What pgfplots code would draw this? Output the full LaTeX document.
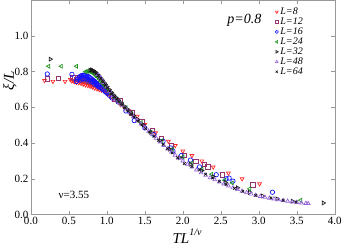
\documentclass[border=0pt]{standalone}
\usepackage{pgfplots}
\pgfplotsset{compat=1.18}
\usepackage{fontspec}
\setmainfont{Liberation Serif}
\definecolor{cL8}{RGB}{255,40,40}
\definecolor{cL12}{RGB}{150,50,110}
\definecolor{cL16}{RGB}{20,20,255}
\definecolor{cL24}{RGB}{30,150,30}
\definecolor{cL32}{RGB}{30,30,30}
\definecolor{cL48}{RGB}{150,100,220}
\definecolor{cL64}{RGB}{20,20,20}
\begin{document}
\begin{tikzpicture}
\begin{axis}[
  scale only axis, width=302.8pt, height=213.6pt,
  xmin=0, xmax=4, ymin=0, ymax=1.2,
  xtick={0,0.5,...,4}, ytick={0,0.2,...,1.0},
  tick align=inside, major tick length=4pt,
  axis line style={gray!80}, every tick/.style={gray!80},
  xticklabel={\pgfmathprintnumber[fixed,fixed zerofill,precision=1,assume math mode=true]{\tick}},
  yticklabel={\pgfmathprintnumber[fixed,fixed zerofill,precision=1,assume math mode=true]{\tick}},
  tick label style={font=\fontsize{11}{11}\selectfont},
  xticklabel style={yshift=1pt},
  yticklabel style={xshift=1pt},
  xlabel={\textit{TL}\raisebox{1.1ex}{\fontsize{10}{10}\selectfont\textit{1/ν}}},
  ylabel={\textit{ξ/L}},
  xlabel style={font=\fontsize{15}{15}\selectfont, at={(axis description cs:0.514,-0.134)}, anchor=base},
  ylabel style={font=\fontsize{15}{15}\selectfont, at={(axis description cs:-0.069,0.625)}, anchor=center, rotate=0},
  legend style={draw=none, fill=none, at={(axis cs:3.20,1.175)}, anchor=north west,
     font=\fontsize{10}{10}\selectfont, row sep=-2.2pt, inner sep=1pt},
  legend image post style={mark size=1.6pt, line width=0.6pt},
  legend cell align=left,
  mark size=2.2pt,
  every axis plot/.append style={only marks, line width=0.7pt},
]
% L=8
\addplot[cL8, mark=triangle, mark options={rotate=180}] coordinates {
(0.18,0.750)(0.29,0.745)(0.45,0.745)
(0.52,0.755)(0.54,0.748)(0.555,0.752)(0.57,0.744)(0.585,0.750)(0.60,0.740)(0.615,0.748)(0.63,0.738)
(0.645,0.745)(0.66,0.734)(0.675,0.742)(0.69,0.730)(0.705,0.738)(0.72,0.726)(0.735,0.734)(0.75,0.722)
(0.765,0.730)(0.78,0.718)(0.795,0.726)(0.81,0.714)(0.825,0.720)(0.84,0.708)(0.855,0.716)(0.87,0.704)
(0.885,0.712)(0.90,0.700)(0.915,0.706)(0.93,0.696)(0.95,0.700)(0.97,0.690)(0.99,0.688)(1.02,0.676)
(1.05,0.668)(1.09,0.652)(1.13,0.636)(1.18,0.616)(1.23,0.598)
(1.29,0.580)(1.40,0.550)(1.50,0.504)(1.64,0.457)(1.81,0.410)(1.90,0.386)(2.00,0.355)(2.12,0.330)
(2.25,0.300)(2.40,0.266)(2.60,0.232)(2.78,0.200)(3.01,0.172)
};
\addlegendentry{\textit{L=8}}
% L=12
\addplot[cL12, mark=square] coordinates {
(0.22,0.760)(0.36,0.762)(0.55,0.768)
(0.58,0.765)(0.60,0.758)(0.62,0.768)(0.64,0.760)(0.66,0.766)(0.68,0.756)(0.70,0.762)(0.72,0.752)
(0.74,0.756)(0.76,0.746)(0.78,0.750)(0.80,0.740)(0.82,0.742)(0.84,0.732)(0.86,0.733)(0.88,0.722)
(0.90,0.722)(0.92,0.712)(0.94,0.710)(0.96,0.700)(0.99,0.690)(1.02,0.678)(1.06,0.662)(1.10,0.648)
(1.18,0.640)(1.33,0.570)(1.46,0.520)(1.60,0.470)(1.72,0.425)(1.85,0.385)(2.02,0.330)(2.17,0.298)
(2.28,0.280)(2.33,0.266)(2.52,0.223)(2.92,0.167)
};
\addlegendentry{\textit{L=12}}
% L=16
\addplot[cL16, mark=o] coordinates {
(0.216,0.787)(0.54,0.785)
(0.60,0.745)(0.615,0.758)(0.63,0.766)(0.645,0.772)(0.66,0.776)(0.675,0.779)(0.69,0.780)(0.705,0.780)
(0.72,0.779)(0.735,0.776)(0.75,0.773)(0.765,0.769)(0.78,0.765)(0.795,0.760)(0.81,0.755)(0.825,0.750)
(0.84,0.744)(0.855,0.738)(0.87,0.732)(0.885,0.726)(0.90,0.720)(0.92,0.712)(0.94,0.704)(0.96,0.696)
(0.98,0.688)
(0.65,0.752)(0.68,0.760)(0.71,0.762)(0.74,0.758)(0.77,0.752)(0.80,0.745)(0.83,0.736)(0.86,0.726)
(0.89,0.715)(1.00,0.680)(1.03,0.668)(1.07,0.652)
(1.15,0.630)(1.25,0.580)(1.36,0.526)(1.50,0.485)(1.62,0.448)(1.74,0.410)(1.84,0.373)(1.87,0.355)
(1.98,0.330)(2.10,0.305)(2.22,0.267)(2.44,0.223)(2.57,0.200)(2.61,0.204)(2.66,0.187)(3.18,0.125)
};
\addlegendentry{\textit{L=16}}
% L=24
\addplot[cL24, mark=triangle, mark options={rotate=90}] coordinates {
(0.233,0.830)(0.40,0.830)(0.60,0.830)
(0.72,0.800)(0.74,0.802)(0.76,0.803)(0.78,0.800)(0.80,0.796)(0.82,0.790)(0.84,0.784)(0.86,0.776)
(0.88,0.768)(0.90,0.758)(0.92,0.748)(0.94,0.738)(0.96,0.728)(0.98,0.718)(1.00,0.708)(1.03,0.692)
(1.06,0.678)(1.09,0.664)(1.12,0.650)(1.16,0.634)(1.20,0.618)(1.25,0.598)
(1.32,0.568)(1.45,0.515)(1.58,0.462)(1.72,0.412)(1.86,0.366)(2.00,0.322)(2.12,0.288)(2.25,0.255)
(2.38,0.226)(2.55,0.192)(2.65,0.177)(2.88,0.144)(3.55,0.080)
};
\addlegendentry{\textit{L=24}}
% L=32
\addplot[cL32, mark=triangle, mark options={rotate=-90}] coordinates {
(0.255,0.870)
(0.78,0.808)(0.80,0.810)(0.82,0.806)(0.84,0.800)(0.86,0.792)(0.88,0.784)(0.90,0.774)(0.92,0.763)
(0.94,0.752)(0.96,0.740)(0.98,0.728)(1.00,0.716)(1.03,0.700)(1.06,0.684)(1.09,0.668)(1.12,0.654)
(1.15,0.640)(1.19,0.624)(1.23,0.606)(1.27,0.590)(1.31,0.572)(1.35,0.555)(1.40,0.534)
(1.48,0.502)(1.58,0.460)(1.70,0.414)(1.83,0.366)(1.96,0.318)(2.10,0.282)(2.25,0.246)(2.40,0.212)
(2.56,0.180)(2.72,0.150)(2.88,0.124)(3.05,0.104)(3.24,0.088)(3.44,0.075)(3.85,0.065)
};
\addlegendentry{\textit{L=32}}
% L=48
\addplot[cL48, mark=triangle] coordinates {
(0.88,0.785)(0.92,0.765)(0.96,0.740)(1.00,0.714)(1.04,0.690)(1.08,0.666)(1.12,0.646)(1.16,0.630)
(1.20,0.612)(1.25,0.592)(1.30,0.570)(1.35,0.548)(1.40,0.527)(1.45,0.507)(1.50,0.487)(1.55,0.467)
(1.60,0.447)(1.65,0.427)(1.70,0.407)(1.75,0.387)(1.80,0.368)(1.85,0.350)(1.90,0.333)(1.95,0.316)
(2.00,0.300)(2.06,0.282)(2.12,0.266)(2.18,0.250)(2.24,0.234)(2.30,0.220)(2.36,0.207)(2.42,0.195)
(2.48,0.183)(2.54,0.172)(2.60,0.160)(2.66,0.150)(2.72,0.140)(2.78,0.131)(2.84,0.123)(2.90,0.115)
(2.96,0.108)(3.02,0.102)(3.08,0.097)(3.14,0.092)(3.20,0.088)(3.26,0.083)(3.32,0.079)(3.38,0.075)
(3.44,0.071)(3.50,0.068)(3.56,0.065)(3.62,0.063)(3.65,0.062)
};
\addlegendentry{\textit{L=48}}
% L=64
\addplot[cL64, mark=x, mark size=1.8pt] coordinates {
(0.80,0.808)(0.83,0.800)(0.86,0.790)(0.89,0.778)(0.92,0.762)(0.95,0.745)(0.98,0.728)(1.01,0.710)
(1.04,0.692)(1.07,0.676)(1.10,0.660)(1.13,0.646)(1.16,0.633)(1.20,0.616)(1.24,0.598)(1.28,0.580)
(1.32,0.562)(1.36,0.545)(1.41,0.523)(1.46,0.502)(1.51,0.482)(1.56,0.462)(1.62,0.438)(1.68,0.415)
(1.74,0.392)(1.80,0.368)(1.86,0.345)(1.93,0.318)
(2.02,0.285)(2.12,0.268)(2.22,0.250)(2.30,0.226)(2.39,0.205)(2.48,0.186)(2.57,0.168)(2.68,0.147)
(2.79,0.130)(2.96,0.108)(3.16,0.093)(3.32,0.080)(3.49,0.071)
};
\addlegendentry{\textit{L=64}}
\node[font=\fontsize{14}{14}\selectfont\itshape] at (axis cs:2.81,1.086) {p=0.8};
\node[font=\fontsize{11}{11}\selectfont] at (axis cs:0.565,0.108) {ν=3.55};
\end{axis}
\end{tikzpicture}
\end{document}
